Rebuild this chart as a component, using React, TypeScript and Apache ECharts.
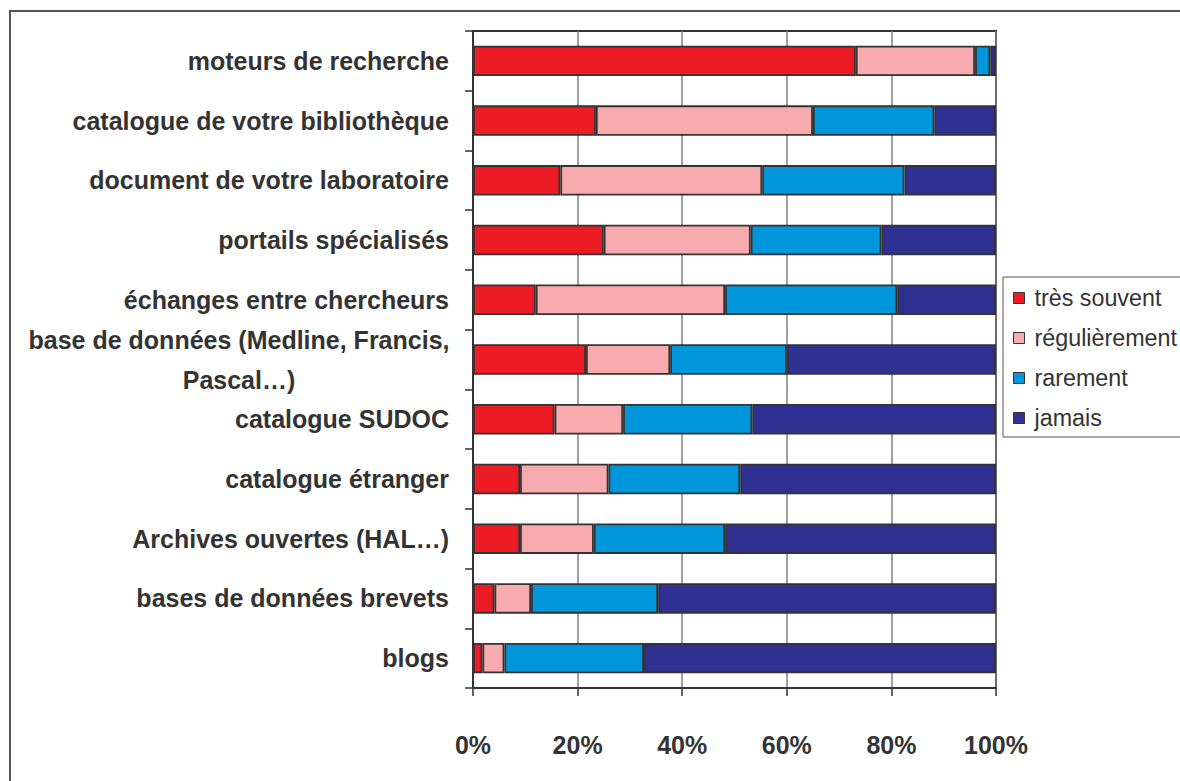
import React, { useEffect, useRef } from "react";
import * as echarts from "echarts";

const categories = [
  "moteurs de recherche",
  "catalogue de votre bibliothèque",
  "document de votre laboratoire",
  "portails spécialisés",
  "échanges entre chercheurs",
  "base de données (Medline, Francis,\nPascal…)",
  "catalogue SUDOC",
  "catalogue étranger",
  "Archives ouvertes (HAL…)",
  "bases de données brevets",
  "blogs",
];

const seriesNames = ["très souvent", "régulièrement", "rarement", "jamais"];

const tresSouvent = [73.2, 23.5, 16.7, 25.0, 12.0, 21.6, 15.6, 9.0, 9.0, 4.1, 1.8];
const regulierement = [22.8, 41.5, 38.6, 28.1, 36.2, 16.1, 13.1, 16.9, 14.1, 7.0, 4.2];
const rarement = [2.9, 23.2, 27.2, 25.0, 32.9, 22.3, 24.7, 25.2, 25.1, 24.3, 26.7];
const jamais = [1.1, 11.8, 17.5, 21.9, 18.9, 40.0, 46.6, 48.9, 51.8, 64.6, 67.3];

const xTicks = { min: 0, max: 100, interval: 20 };

const colors = ["#ED1C24", "#F7ABAE", "#0096DB", "#2E3192"];

export default function App() {
  const ref = useRef<HTMLDivElement>(null);

  useEffect(() => {
    if (!ref.current) return;
    const chart = echarts.init(ref.current, undefined, { renderer: "svg" });
    const values = [tresSouvent, regulierement, rarement, jamais];
    const font = "'Liberation Sans', Arial, Helvetica, sans-serif";
    chart.setOption({
      animation: false,
      backgroundColor: "#ffffff",
      textStyle: { fontFamily: font },
      graphic: [
        {
          type: "rect",
          shape: { x: 10, y: 11, width: 1200, height: 800 },
          style: { fill: "none", stroke: "#555555", lineWidth: 2 },
          silent: true,
        },
      ],
      grid: {
        left: 473,
        top: 31,
        right: 184,
        bottom: 93,
        show: true,
        borderColor: "#333333",
        borderWidth: 2,
        backgroundColor: "transparent",
      },
      legend: {
        orient: "vertical",
        left: 1003,
        top: 277,
        padding: [9, 40, 7, 10],
        itemGap: 16,
        itemWidth: 11,
        itemHeight: 11,
        icon: "rect",
        borderColor: "#555555",
        borderWidth: 1,
        itemStyle: { borderColor: "#333333", borderWidth: 1 },
        textStyle: {
          fontSize: 23.3,
          color: "#333333",
          fontFamily: font,
          lineHeight: 24,
          padding: [0, 0, 0, 5],
        },
        data: seriesNames,
      },
      xAxis: {
        type: "value",
        min: xTicks.min,
        max: xTicks.max,
        interval: xTicks.interval,
        axisLine: { show: true, lineStyle: { color: "#333333", width: 2 } },
        axisTick: { show: true, length: 8, lineStyle: { color: "#333333", width: 1.5 } },
        splitLine: { show: true, lineStyle: { color: "#808080", width: 1.5 } },
        axisLabel: {
          formatter: "{value}%",
          fontSize: 25,
          fontWeight: "bold",
          color: "#333333",
          margin: 44,
          fontFamily: font,
        },
      },
      yAxis: {
        type: "category",
        inverse: true,
        data: categories,
        axisLine: { show: true, lineStyle: { color: "#333333", width: 2 } },
        axisTick: { show: true, length: 8, lineStyle: { color: "#333333", width: 1.5 } },
        splitLine: { show: false },
        axisLabel: {
          fontSize: 25,
          fontWeight: "bold",
          color: "#333333",
          margin: 24,
          lineHeight: 40,
          align: "right",
          fontFamily: font,
          formatter: (v: string) => {
            if (v.indexOf("\n") < 0) return v;
            return v
              .split("\n")
              .map((line) => "{c|" + line + "}")
              .join("\n");
          },
          rich: {
            c: {
              width: 420,
              align: "center",
              fontSize: 25,
              fontWeight: "bold",
              color: "#333333",
              lineHeight: 40,
              fontFamily: font,
            },
          },
        },
      },
      series: seriesNames.map((name, i) => ({
        name,
        type: "bar",
        stack: "total",
        barCategoryGap: "49%",
        data: values[i],
        itemStyle: { color: colors[i], borderColor: "#333333", borderWidth: 1.8 },
      })),
      color: colors,
    });
    return () => chart.dispose();
  }, []);

  return (
    <div
      ref={ref}
      style={{ position: "absolute", left: 0, top: 0, width: 1180, height: 781 }}
    />
  );
}
